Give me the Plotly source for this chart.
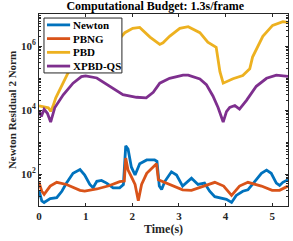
import plotly.graph_objects as go

# ---- data ----
t_pbd = [0.00, 0.10, 0.20, 0.25, 0.30, 0.36, 0.50, 0.62, 0.80, 1.00, 1.20, 1.40, 1.60, 1.68, 1.73, 1.77,
         1.84, 2.01, 2.16, 2.38, 2.59, 2.66, 2.80, 3.02, 3.20, 3.45, 3.62, 3.73, 3.80, 3.88, 3.95,
         4.16, 4.37, 4.52, 4.58, 4.80, 5.01, 5.23, 5.34]
pbd = [1.35e4, 1.26e4, 1.17e4, 9.1e3, 1.32e4, 2.4e4, 6.3e4, 1.41e5, 4.0e5, 8.9e5, 1.41e6, 1.78e6, 2.1e6,
       2.0e6, 2.3e6, 2.0e6, 2.6e6, 3.55e6, 3.8e6, 1.9e6, 1.12e6, 1.26e6, 2.0e6, 3.55e6, 4.0e6, 2.6e6,
       1.32e6, 1.05e6, 9.1e5, 1.58e5, 6.9e4, 9.5e4, 1.2e5, 1.95e5, 4.5e5, 2.0e6, 4.4e6, 5.75e6, 5.5e6]

t_xpbd = [0.00, 0.05, 0.11, 0.18, 0.25, 0.34, 0.52, 0.73, 0.91, 1.00, 1.24, 1.52, 1.80, 2.09, 2.30, 2.45,
          2.59, 2.80, 3.09, 3.20, 3.45, 3.59, 3.73, 3.84, 3.95, 4.02, 4.09, 4.20, 4.30, 4.45, 4.66,
          4.88, 5.09, 5.34]
xpbd = [9.5e3, 6.3e3, 1.05e4, 7.9e3, 4.2e3, 1.2e4, 3.0e4, 6.9e4, 1.1e5, 1.17e5, 1.0e5, 5.5e4, 3.0e4,
        2.5e4, 2.4e4, 3.55e4, 6.9e4, 9.8e4, 1.23e5, 1.23e5, 9.3e4, 6.2e4, 2.75e4, 1.2e4, 4.2e3, 8.9e3,
        1.2e4, 1.38e4, 1.07e4, 2.0e4, 5.5e4, 9.8e4, 1.23e5, 1.12e5]

t_newton = [0.00, 0.06, 0.11, 0.24, 0.38, 0.49, 0.59, 0.73, 0.88, 0.98, 1.09, 1.16, 1.24, 1.34, 1.45,
            1.59, 1.73, 1.81, 1.86, 1.91, 1.98, 2.06, 2.16, 2.31, 2.48, 2.53, 2.58, 2.63, 2.70, 2.84,
            2.95, 3.08, 3.27, 3.41, 3.55, 3.66, 3.77, 3.88, 4.02, 4.13, 4.23, 4.37, 4.48, 4.63, 4.77,
            4.88, 4.98, 5.09, 5.16, 5.23, 5.34]
newton = [31, 14.5, 12.9, 17, 18.2, 28.8, 52, 105, 138, 93, 47, 37, 59, 63, 52, 37, 37, 47, 760, 600,
          166, 93, 209, 275, 275, 250, 42, 33, 59, 117, 93, 42, 74, 47, 52, 29, 19.5, 18.2, 16.2, 12.9,
          21.4, 29, 32, 59, 105, 132, 105, 52, 44, 55, 66]

t_pbng = [0.00, 0.06, 0.11, 0.24, 0.38, 0.59, 0.88, 0.98, 1.24, 1.50, 1.73, 1.83, 1.86, 1.91, 1.98,
          2.06, 2.13, 2.20, 2.31, 2.45, 2.52, 2.56, 2.63, 2.84, 3.08, 3.27, 3.55, 3.77, 3.96, 4.13,
          4.30, 4.48, 4.77, 5.00, 5.16, 5.34]
pbng = [55, 29, 23, 42, 55, 47, 31, 29, 34, 43, 58, 60, 316, 132, 83, 47, 14.5, 47, 105, 174, 209, 66,
        60, 43, 32, 31, 42, 55, 42, 21.4, 42, 55, 42, 31, 31, 42]

series_names = ["Newton", "PBNG", "PBD", "XPBD-QS"]
colors = ["#0072BD", "#D95319", "#EDB120", "#7E2F8E"]

y_tickvals = [1e2, 1e4, 1e6]
y_ticktext = ["10<sup>2</sup>", "10<sup>4</sup>", "10<sup>6</sup>"]
x_tickvals = [0, 1, 2, 3, 4, 5]

FONT = "Liberation Serif"

fig = go.Figure()
for name, tx, ty, c in zip(series_names,
                           [t_newton, t_pbng, t_pbd, t_xpbd],
                           [newton, pbng, pbd, xpbd], colors):
    fig.add_trace(go.Scatter(x=tx, y=ty, mode="lines", name=name, showlegend=False,
                             line=dict(color=c, width=2.8)))

# compact MATLAB-style legend box (drawn in plot-area paper coordinates)
leg_x0, leg_x1, leg_y0, leg_y1 = 0.02, 0.333, 0.693, 0.979
fig.add_shape(type="rect", xref="paper", yref="paper", x0=leg_x0, x1=leg_x1, y0=leg_y0, y1=leg_y1,
              fillcolor="white", line=dict(color="#262626", width=1), layer="above")
row_h = (leg_y1 - leg_y0) / 4
for i, (name, c) in enumerate(zip(series_names, colors)):
    yy = leg_y1 - row_h * (i + 0.5)
    fig.add_shape(type="line", xref="paper", yref="paper", x0=0.032, x1=0.125, y0=yy, y1=yy,
                  line=dict(color=c, width=2.8), layer="above")
    fig.add_annotation(xref="paper", yref="paper", x=0.13, y=yy, xanchor="left", yanchor="middle",
                       text="<b>%s</b>" % name, showarrow=False,
                       font=dict(family=FONT, size=11, color="#000000"))

fig.update_layout(
    width=293, height=241,
    margin=dict(l=39, r=5, t=14, b=35, autoexpand=False),
    paper_bgcolor="white", plot_bgcolor="white",
    font=dict(family=FONT, size=11, color="#262626"),
    title=dict(text="<b>Computational Budget: 1.3s/frame</b>", x=0.53, xanchor="center",
               y=0.995, yanchor="top", font=dict(family=FONT, size=12, color="#000000")),
    showlegend=False,
)
fig.update_xaxes(range=[0, 5.34], tickvals=x_tickvals,
                 ticktext=["<b>%d</b>" % v for v in x_tickvals],
                 ticks="inside", ticklen=3, tickcolor="#262626", automargin=False,
                 showline=True, linecolor="#262626", linewidth=1, mirror="ticks",
                 showgrid=False, zeroline=False,
                 tickfont=dict(family=FONT, size=11, color="#262626"),
                 title=dict(text="<b>Time(s)</b>", standoff=2,
                            font=dict(family=FONT, size=12, color="#262626")))
fig.update_yaxes(type="log", range=[1.0, 7.0], tickvals=y_tickvals,
                 ticktext=["<b>%s</b>" % s for s in y_ticktext],
                 ticks="inside", ticklen=3, tickcolor="#262626", automargin=False,
                 minor=dict(ticks="inside", ticklen=2, tickcolor="#262626", dtick="D1"),
                 showline=True, linecolor="#262626", linewidth=1, mirror="ticks",
                 showgrid=False, zeroline=False,
                 tickfont=dict(family=FONT, size=11, color="#262626"),
                 title=dict(text="<b>Newton Residual 2 Norm</b>", standoff=2,
                            font=dict(family=FONT, size=11, color="#262626")))

fig.write_html("out.html", config={"displayModeBar": False},
               post_script="document.body.style.margin='0';document.body.style.padding='0';")
